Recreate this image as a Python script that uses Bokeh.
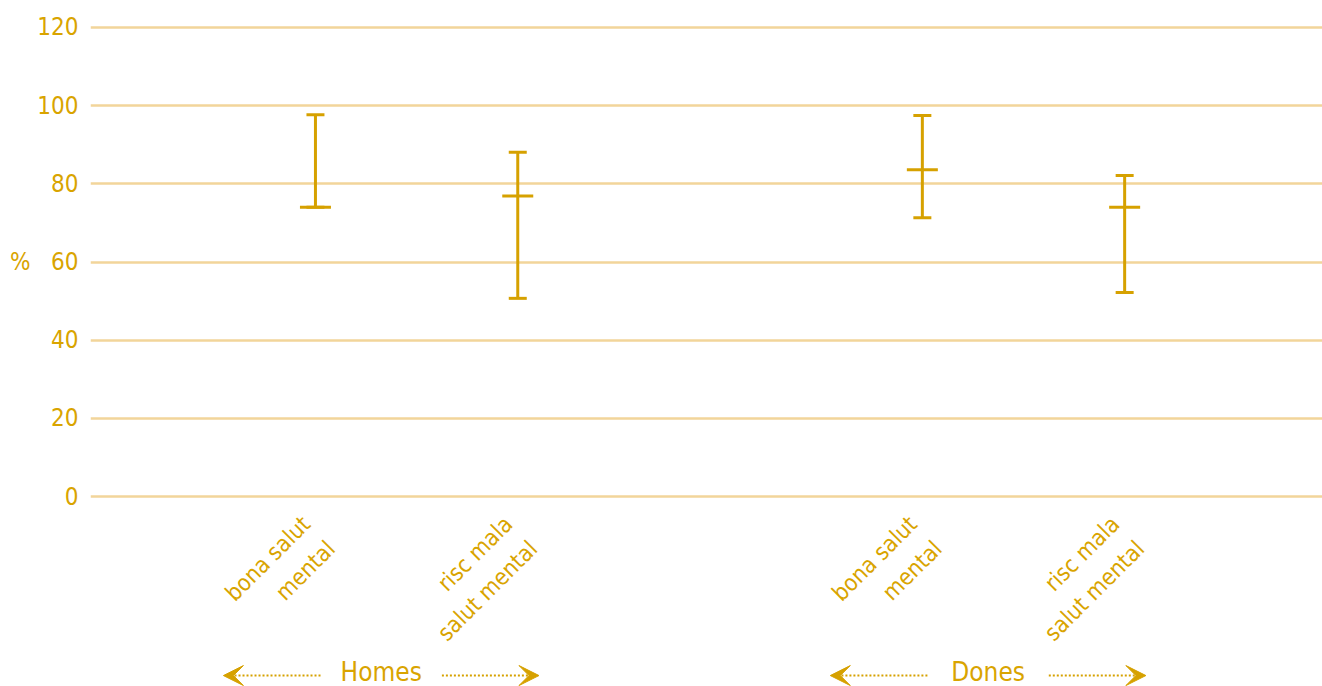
import math
from bokeh.plotting import figure
from bokeh.models import (ColumnDataSource, Whisker, TeeHead, FixedTicker,
                          Range1d, Arrow, VeeHead)
from bokeh.core.properties import value
from bokeh.embed import file_html
from bokeh.resources import INLINE

# ---- data ----
groups = ["Homes", "Homes", "Dones", "Dones"]
categories = ["bona salut\nmental", "risc mala\nsalut mental", "bona salut\nmental", "risc mala\nsalut mental"]
mean_vals = [74.0, 76.9, 83.6, 74.0]
low_vals = [74.0, 50.7, 71.3, 52.2]
high_vals = [97.7, 88.1, 97.5, 82.1]
group_names = ["Homes", "Dones"]
y_ticks = [0, 20, 40, 60, 80, 100, 120]
y_unit = "%"
unit_tick = 60

# ---- styling ----
FONT = "DejaVu Sans Condensed, Roboto Condensed, Roboto, sans-serif"
TXT = "#D9A400"
BAR = "#D6A100"
GRID = "#F2D59A"

# x positions: two groups with a gap slot between them
xs = []
for gi, g in enumerate(group_names):
    n = 0
    for gg in groups:
        if gg == g:
            n += 1
            xs.append(gi * 3 + n)

src = ColumnDataSource(dict(x=xs, mean=mean_vals, low=low_vals, high=high_vals,
                            label=categories))

p = figure(width=1322, height=686, output_backend="svg", toolbar_location=None,
           x_range=Range1d(-0.112, 5.978), y_range=Range1d(-48.6, 126.9),
           min_border_left=90, min_border_right=0, min_border_top=0, min_border_bottom=0)
p.outline_line_color = None
p.xaxis.visible = False
p.xgrid.visible = False
p.background_fill_color = "white"
p.border_fill_color = "white"

yax = p.yaxis[0]
yax.ticker = FixedTicker(ticks=y_ticks)
yax.axis_line_color = None
yax.major_tick_line_color = None
yax.minor_tick_line_color = None
yax.major_label_text_color = TXT
yax.major_label_text_font = FONT
yax.major_label_text_font_size = "24px"
yax.major_label_standoff = 6
yax.major_label_overrides = {unit_tick: y_unit + "\u00a0\u00a0\u00a0" + str(unit_tick)}

p.ygrid.ticker = FixedTicker(ticks=y_ticks)
p.ygrid.grid_line_color = GRID
p.ygrid.grid_line_width = 2.5

# error bars
w = Whisker(base="x", upper="high", lower="low", source=src, dimension="height",
            line_color=BAR, line_width=3,
            upper_head=TeeHead(size=18, line_color=BAR, line_width=3),
            lower_head=TeeHead(size=18, line_color=BAR, line_width=3))
p.add_layout(w)
p.scatter(x="x", y="mean", source=src, marker="dash", size=31,
          line_color=BAR, line_width=3)

# category labels (rotated)
p.text(x="x", y=-9.2, text="label", source=src, angle=math.pi / 4,
       text_align="right", text_baseline="middle", x_offset=3,
       text_font=value(FONT), text_font_size="23px", text_color=TXT,
       text_line_height=1.35)

# group labels with arrows
gx = []
for g in group_names:
    pos = [x for x, gg in zip(xs, groups) if gg == g]
    gx.append(sum(pos) / len(pos) - 0.175)
gsrc = ColumnDataSource(dict(x=gx, text=group_names))
p.text(x="x", y=-45.0, text="text", source=gsrc, text_align="center",
       text_baseline="middle", text_font=value(FONT), text_font_size="26px",
       text_color=TXT)

ay = -45.8
for c in gx:
    for sgn in (-1, 1):
        p.add_layout(Arrow(x_start=c + sgn * 0.30, y_start=ay, x_end=c + sgn * 0.78, y_end=ay,
                           line_color=BAR, line_width=2, line_dash="2 2",
                           end=VeeHead(size=20, fill_color=BAR, line_color=BAR, line_width=1)))

open("out.html", "w").write(file_html(p, INLINE))
